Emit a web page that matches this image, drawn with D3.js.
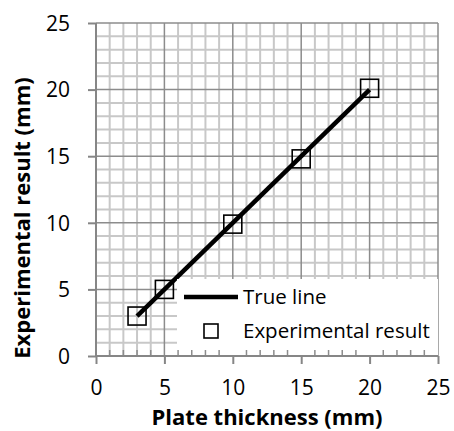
<!DOCTYPE html>
<html>
<head>
<meta charset="utf-8">
<script src="https://cdn.jsdelivr.net/npm/d3@7"></script>
<style>
  html, body { margin: 0; padding: 0; background: #fff; }
  svg { display: block; }
  text { font-family: "Open Sans", "Noto Sans", sans-serif; fill: #000; }
</style>
</head>
<body>
<svg id="chart" width="454" height="431"></svg>
<script>
// Plate thickness vs. measured result
const thickness = [3, 5, 10, 15, 20];
const measured = [3, 5, 9.9, 14.8, 20.1];
const trueLine = [[3, 3], [20, 20]];
const xTicks = [0, 5, 10, 15, 20, 25];
const yTicks = [0, 5, 10, 15, 20, 25];
const legendLabels = ["True line", "Experimental result"];

const svg = d3.select("#chart");
const plotL = 96, plotR = 438, plotT = 23, plotB = 356;

const x = d3.scaleLinear().domain([0, 25]).range([plotL, plotR]);
const y = d3.scaleLinear().domain([0, 25]).range([plotB, plotT]);

const minor = d3.range(0, 26, 1).filter(v => v % 5 !== 0);

// minor grid
const grid = svg.append("g");
grid.append("g").selectAll("line").data(minor).join("line")
  .attr("x1", d => x(d)).attr("x2", d => x(d)).attr("y1", plotT).attr("y2", plotB)
  .attr("stroke", "#c8c8c8").attr("stroke-width", 2);
grid.append("g").selectAll("line").data(minor).join("line")
  .attr("y1", d => y(d)).attr("y2", d => y(d)).attr("x1", plotL).attr("x2", plotR)
  .attr("stroke", "#c8c8c8").attr("stroke-width", 2);
// major grid
grid.append("g").selectAll("line").data(xTicks.slice(1)).join("line")
  .attr("x1", d => x(d)).attr("x2", d => x(d)).attr("y1", plotT).attr("y2", plotB)
  .attr("stroke", "#8c8c8c").attr("stroke-width", 1.5);
grid.append("g").selectAll("line").data(yTicks.slice(1)).join("line")
  .attr("y1", d => y(d)).attr("y2", d => y(d)).attr("x1", plotL).attr("x2", plotR)
  .attr("stroke", "#8c8c8c").attr("stroke-width", 1.5);

// series: true line
const line = d3.line().x(d => x(d[0])).y(d => y(d[1]));
svg.append("path").datum(trueLine).attr("d", line)
  .attr("fill", "none").attr("stroke", "#000").attr("stroke-width", 4.5);

// series: experimental squares
const s = 18;
svg.append("g").selectAll("rect").data(thickness.map((t, i) => [t, measured[i]])).join("rect")
  .attr("x", d => x(d[0]) - s / 2).attr("y", d => y(d[1]) - s / 2)
  .attr("width", s).attr("height", s)
  .attr("fill", "none").attr("stroke", "#000").attr("stroke-width", 1.6);

// legend
const lg = svg.append("g");
lg.append("rect").attr("x", 177).attr("y", 279).attr("width", plotR - 177).attr("height", plotB - 279)
  .attr("fill", "#fff");
lg.append("line").attr("x1", 184).attr("x2", 238).attr("y1", 297).attr("y2", 297)
  .attr("stroke", "#000").attr("stroke-width", 4.5);
lg.append("rect").attr("x", 204).attr("y", 324).attr("width", 14).attr("height", 14)
  .attr("fill", "none").attr("stroke", "#000").attr("stroke-width", 1.6);
lg.selectAll("text").data(legendLabels).join("text")
  .attr("x", 243).attr("y", (d, i) => i === 0 ? 304 : 338)
  .attr("font-size", 20.5).text(d => d);

// axes
const xAxis = d3.axisBottom(x).tickValues(xTicks).tickSize(8).tickFormat(d3.format("d"));
const yAxis = d3.axisLeft(y).tickValues(yTicks).tickSize(8).tickFormat(d3.format("d"));

// inward minor ticks along the bottom axis
svg.append("g").selectAll("line").data(minor).join("line")
  .attr("x1", d => x(d)).attr("x2", d => x(d)).attr("y1", plotB - 6).attr("y2", plotB)
  .attr("stroke", "#8c8c8c").attr("stroke-width", 1.5);

const gx = svg.append("g").attr("transform", `translate(0,${plotB})`).call(xAxis);
const gy = svg.append("g").attr("transform", `translate(${plotL},0)`).call(yAxis);
[gx, gy].forEach(g => {
  g.select(".domain").attr("stroke", "#868686").attr("stroke-width", 2);
  g.selectAll(".tick line").attr("stroke", "#868686").attr("stroke-width", 2);
  g.selectAll(".tick text").attr("font-size", 21).attr("font-family", "'Open Sans', sans-serif").attr("fill", "#000");
});
gx.select(".domain").attr("d", `M${plotL},0H${plotR}`);
gy.select(".domain").attr("d", `M0,${plotT}V${plotB}`);
gx.selectAll(".tick text").attr("dy", null).attr("y", 39);
gy.selectAll(".tick text").attr("x", -26).attr("dy", "0.35em");

// axis titles
svg.append("text").attr("x", (plotL + plotR) / 2).attr("y", 425)
  .attr("text-anchor", "middle").attr("font-weight", "bold").attr("font-size", 22)
  .text("Plate thickness (mm)");
svg.append("text").attr("transform", "translate(30,218) rotate(-90)")
  .attr("text-anchor", "middle").attr("font-weight", "bold").attr("font-size", 22)
  .text("Experimental result (mm)");
</script>
</body>
</html>
